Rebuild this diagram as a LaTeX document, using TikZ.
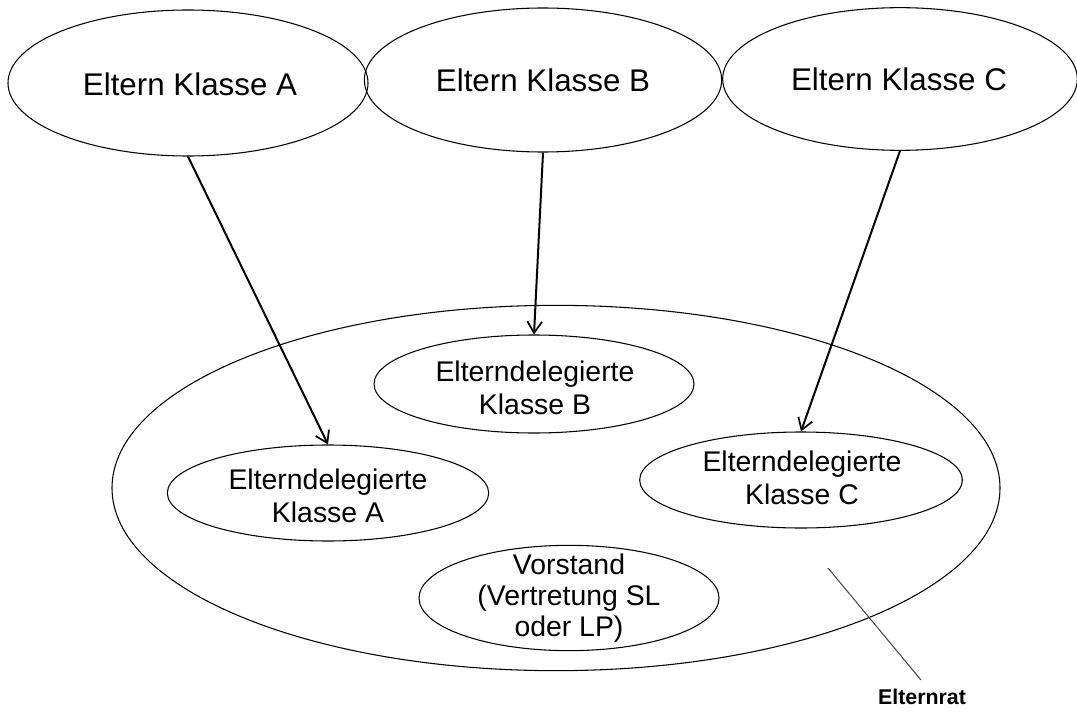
\documentclass[tikz,border=0pt]{standalone}
\usepackage{fontspec}
\setmainfont{Liberation Sans}
\usetikzlibrary{shapes.geometric,arrows.meta}
\begin{document}
\begin{tikzpicture}[x=0.75pt,y=-0.75pt,
  oval/.style={draw=black,line width=0.8pt,ellipse,inner sep=0pt},
  bigtxt/.style={font=\fontsize{23.5}{27}\selectfont,align=center,inner sep=0pt},
  midtxt/.style={font=\fontsize{21.3}{24.5}\selectfont,align=center,inner sep=0pt},
  arr/.style={-{Straight Barb[length=8.5pt,width=11pt,line width=1.3pt]},line width=1.5pt},
  pointer/.style={draw=black!70,line width=0.8pt}]
\useasboundingbox (0,0) rectangle (1077,713);
% top ellipses
\node[oval,minimum width=270pt,minimum height=109.5pt] (ea) at (188,83) {};
\node[bigtxt] (ta) at (190,84) {Eltern Klasse A};
\node[oval,minimum width=268pt,minimum height=108pt] (eb) at (543,80) {};
\node[bigtxt] (tb) at (543,80) {Eltern Klasse B};
\node[oval,minimum width=266pt,minimum height=107pt] (ec) at (900,79) {};
\node[bigtxt] (tc) at (899,79) {Eltern Klasse C};
% big ellipse
\node[oval,minimum width=666pt,minimum height=274pt] (rat) at (556,488) {};
% inner ellipses
\node[oval,minimum width=240pt,minimum height=73.5pt] (db) at (534,384) {};
\node[midtxt] (tdb) at (535,388) {Elterndelegierte\\Klasse B};
\node[oval,minimum width=241pt,minimum height=72pt] (da) at (328,493) {};
\node[midtxt] (tda) at (328,496) {Elterndelegierte\\Klasse A};
\node[oval,minimum width=242pt,minimum height=72pt] (dc) at (801,480) {};
\node[midtxt] (tdc) at (802,478) {Elterndelegierte\\Klasse C};
\node[oval,minimum width=225pt,minimum height=79pt] (vs) at (569,598) {};
\node[midtxt,font=\fontsize{21.3}{23}\selectfont] (tvs) at (569,598) {Vorstand\\(Vertretung SL\\oder LP)};
% arrows
\draw[arr] (ea.south) -- (da.north);
\draw[arr] (eb.south) -- (db.north);
\draw[arr] (ec.south) -- (dc.north);
% pointer to label
\coordinate (p1) at (828,568);
\coordinate (p2) at (921,680);
\draw[pointer] (p1) -- (p2);
\node[font=\bfseries\fontsize{16}{18}\selectfont,inner sep=0pt] (lbl) at (922,697) {Elternrat};
\end{tikzpicture}
\end{document}
